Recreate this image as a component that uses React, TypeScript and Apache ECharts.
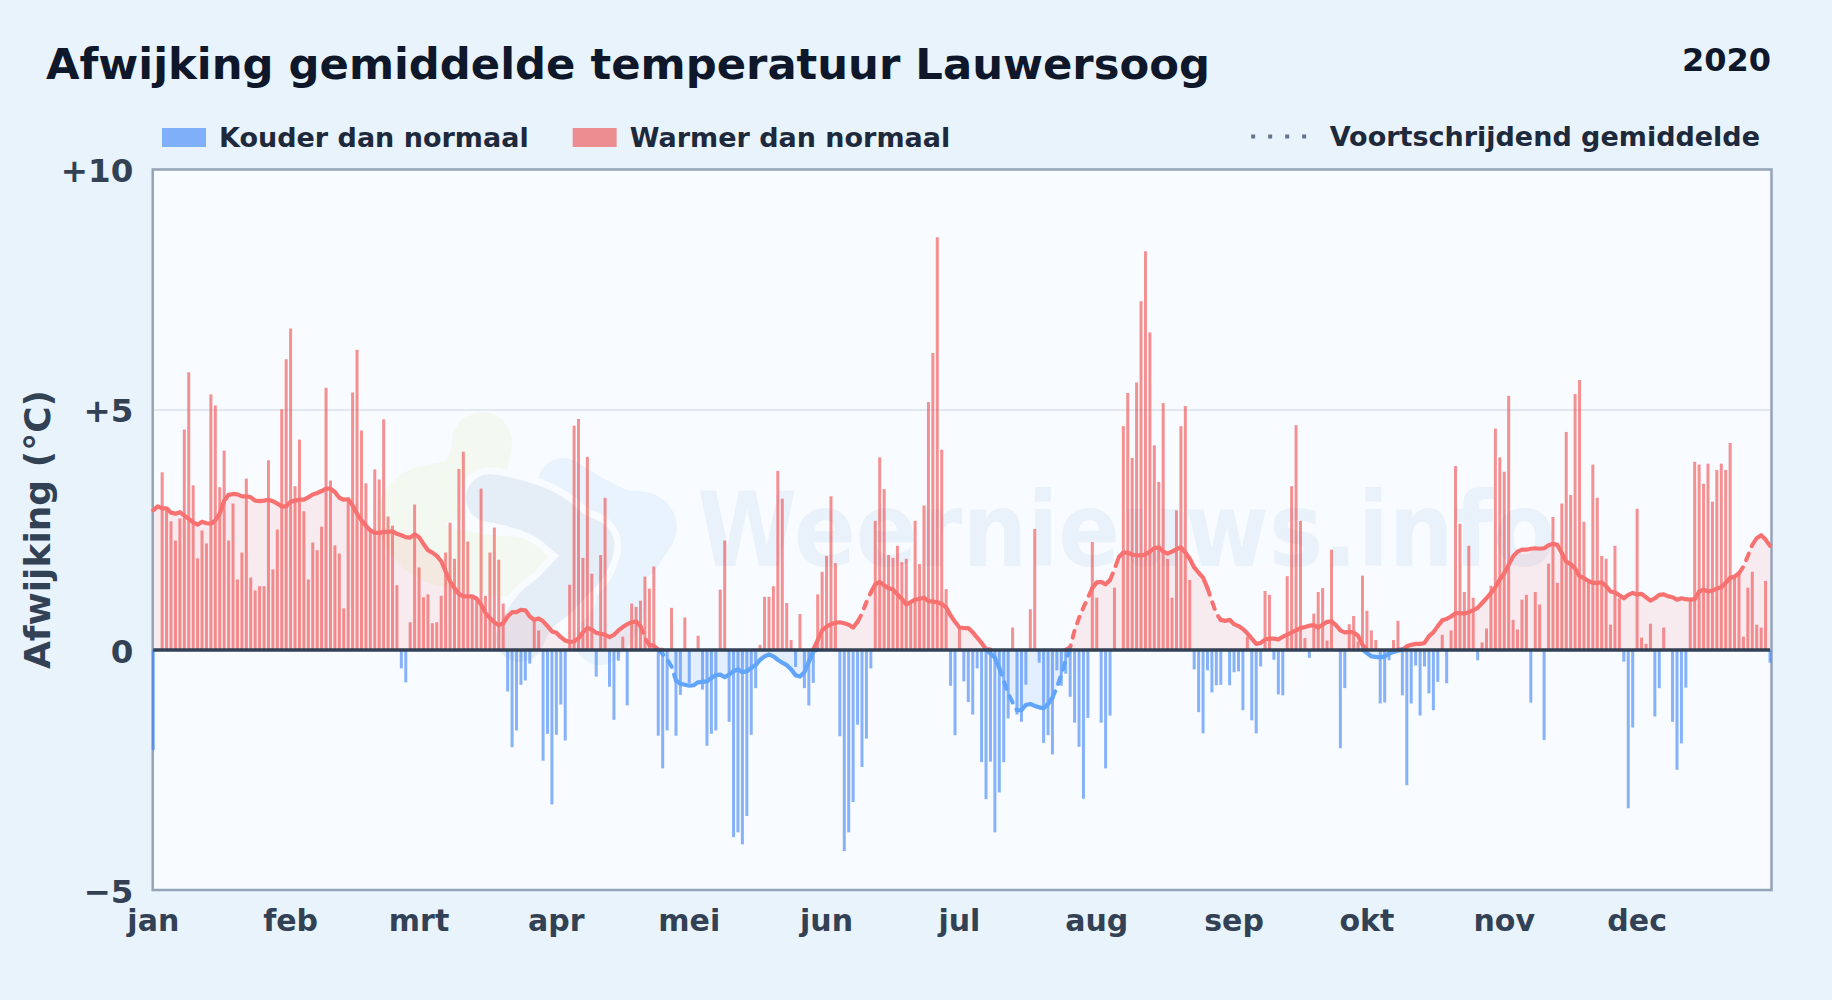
import React, { useEffect, useRef } from "react";
import * as echarts from "echarts";

const monthNames = ["jan", "feb", "mrt", "apr", "mei", "jun", "jul", "aug", "sep", "okt", "nov", "dec"];
const monthStarts = [0, 31, 60, 91, 121, 152, 182, 213, 244, 274, 305, 335];
const yTicks: Record<string, string> = { "10": "+10", "5": "+5", "0": "0", "-5": "\u22125" };

const deviations = [
  -2.09, 0, 3.69, 2.9, 2.67, 2.27, 2.73, 4.58, 5.77, 3.42,
  1.9, 2.48, 2.21, 5.31, 5.08, 3.38, 4.14, 2.27, 3.04, 1.46,
  2.02, 3.56, 1.5, 1.23, 1.32, 1.32, 3.94, 1.67, 2.5, 5.0,
  6.04, 6.68, 3.4, 4.37, 2.88, 1.46, 2.23, 2.07, 2.56, 5.45,
  3.52, 2.17, 2.0, 0.86, 3.1, 5.35, 6.24, 4.56, 3.46, 2.48,
  3.75, 3.54, 4.79, 2.77, 2.58, 1.34, -0.39, -0.68, 0.57, 3.02,
  1.71, 1.09, 1.15, 0.55, 0.57, 1.12, 2.02, 2.64, 1.89, 3.76,
  4.12, 2.25, 1.14, 1.1, 3.35, 1.12, 2.02, 2.54, 1.87, 0.96,
  -0.87, -2.03, -1.68, -0.73, -0.64, -0.29, 0.62, 0.4, -2.31, -1.75,
  -3.22, -1.77, -1.14, -1.89, 1.35, 4.66, 4.8, 1.91, 4.01, 1.58,
  -0.56, 1.97, 3.16, -0.77, -1.46, -0.23, 0.27, -1.16, 0.96, 0.89,
  1.02, 1.52, 1.27, 1.73, -1.79, -2.47, -1.68, 0.87, -1.79, -0.94,
  0.67, -0.7, 0, 0.29, -0.83, -2.0, -1.75, -1.68, 1.25, 2.27,
  -1.5, -3.9, -3.8, -4.05, -3.46, -1.77, -0.8, 0.1, 1.1, 1.1,
  1.32, 3.72, 3.14, 0.97, 0.2, -0.36, 0.74, -0.8, -1.16, -0.69,
  1.15, 1.62, 1.95, 3.19, 1.8, -1.8, -4.19, -3.8, -3.17, -1.56,
  -2.44, -1.85, -0.39, 2.68, 4.0, 3.34, 1.97, 1.91, 2.16, 1.82,
  1.89, 0.95, 2.68, 1.78, 3.0, 5.15, 6.17, 8.58, 4.16, 1.26,
  -0.75, -1.78, 0.46, -0.66, -1.09, -1.35, -0.39, -2.34, -3.11, -2.33,
  -3.8, -2.97, -2.34, -1.43, 0.46, -1.35, -1.5, -0.73, 0.84, 2.51,
  -0.27, -1.94, -1.78, -2.18, -0.43, -0.75, -0.5, -0.98, -1.52, -2.02,
  -3.1, -1.42, 2.24, 1.08, -1.52, -2.47, -1.37, 1.29, 0, 4.65,
  5.34, 3.99, 5.56, 7.25, 8.29, 6.6, 4.25, 3.49, 5.13, 1.89,
  1.08, 2.9, 4.65, 5.07, 1.45, -0.41, -1.3, -1.74, -0.43, -0.89,
  -0.74, -0.73, 0, -0.74, -0.47, -0.45, -1.26, 0.27, -1.47, -1.74,
  -0.35, 1.22, 1.14, -0.21, -0.93, -0.95, 1.53, 3.4, 4.67, 2.68,
  0.24, -0.17, 0.75, 1.2, 1.28, 0.19, 2.08, 0, -2.05, -0.8,
  0.53, 0.7, 0.17, 1.54, 0.81, 0.4, 0.2, -1.12, -1.1, -0.22,
  0.2, 0.6, -0.95, -2.82, -1.12, -0.33, -1.37, -0.35, -0.91, -1.26,
  -0.67, 0.31, -0.7, 0.4, 3.82, 2.62, 1.2, 2.16, 1.08, -0.22,
  0.15, 0.44, 1.33, 4.6, 4.0, 3.7, 5.28, 0.62, 0.42, 1.04,
  1.14, -1.1, 1.2, 0.94, -1.88, 1.79, 2.76, 1.39, 3.04, 4.53,
  3.22, 5.32, 5.61, 2.66, 1.4, 3.85, 3.16, 1.95, 1.89, 0.52,
  2.16, 1.07, -0.25, -3.3, -1.62, 2.93, 0.25, 0.12, 0.54, -1.39,
  -0.8, 0.46, 0, -1.5, -2.5, -1.95, -0.79, 1.04, 3.91, 3.85,
  3.45, 3.87, 3.08, 3.74, 3.87, 3.74, 4.3, 1.5, 1.6, 0.27,
  1.29, 1.62, 0.52, 0.46, 1.43, -0.27,
];

const movingAverage = [
  2.9, 2.98, 2.94, 2.94, 2.85, 2.83, 2.86, 2.79, 2.72, 2.65,
  2.6, 2.66, 2.63, 2.62, 2.69, 2.83, 3.1, 3.22, 3.24, 3.23,
  3.19, 3.19, 3.17, 3.1, 3.09, 3.1, 3.12, 3.09, 3.04, 2.98,
  2.98, 3.08, 3.1, 3.12, 3.12, 3.17, 3.23, 3.26, 3.3, 3.35,
  3.35, 3.28, 3.16, 3.12, 3.13, 3.0, 2.83, 2.69, 2.58, 2.48,
  2.43, 2.43, 2.45, 2.45, 2.46, 2.41, 2.38, 2.34, 2.33, 2.4,
  2.34, 2.2, 2.07, 2.02, 1.95, 1.84, 1.63, 1.42, 1.28, 1.16,
  1.11, 1.11, 1.11, 1.06, 0.94, 0.76, 0.66, 0.57, 0.51, 0.55,
  0.69, 0.78, 0.78, 0.83, 0.82, 0.69, 0.62, 0.65, 0.59, 0.49,
  0.38, 0.35, 0.26, 0.19, 0.16, 0.17, 0.24, 0.36, 0.45, 0.42,
  0.35, 0.33, 0.31, 0.26, 0.31, 0.4, 0.47, 0.53, 0.57, 0.59,
  0.49, 0.24, 0.1, 0.08, 0, -0.09, -0.2, -0.35, -0.64, -0.71,
  -0.73, -0.75, -0.74, -0.68, -0.67, -0.66, -0.59, -0.53, -0.52, -0.57,
  -0.52, -0.45, -0.41, -0.47, -0.45, -0.38, -0.32, -0.21, -0.14, -0.1,
  -0.14, -0.21, -0.27, -0.32, -0.41, -0.53, -0.56, -0.47, -0.25, -0.03,
  0.2, 0.4, 0.48, 0.53, 0.56, 0.57, 0.55, 0.52, 0.46, 0.58,
  0.75, 0.99, 1.19, 1.36, 1.41, 1.34, 1.28, 1.25, 1.15, 1.06,
  0.94, 0.99, 1.04, 1.06, 1.08, 1.01, 1.0, 0.99, 0.95, 0.88,
  0.71, 0.58, 0.46, 0.45, 0.45, 0.36, 0.25, 0.14, 0.01, -0.08,
  -0.17, -0.38, -0.65, -0.91, -1.1, -1.26, -1.26, -1.15, -1.13, -1.17,
  -1.2, -1.22, -1.13, -1.0, -0.78, -0.52, -0.21, 0.05, 0.4, 0.66,
  0.88, 1.08, 1.28, 1.4, 1.41, 1.36, 1.45, 1.67, 1.93, 2.02,
  2.02, 1.98, 1.96, 1.96, 1.98, 2.04, 2.11, 2.13, 2.04, 2.0,
  2.04, 2.09, 2.13, 2.02, 1.89, 1.71, 1.6, 1.5, 1.28, 1.01,
  0.75, 0.62, 0.6, 0.62, 0.53, 0.49, 0.43, 0.34, 0.23, 0.12,
  0.14, 0.21, 0.23, 0.23, 0.21, 0.27, 0.31, 0.36, 0.4, 0.45,
  0.47, 0.5, 0.51, 0.46, 0.52, 0.58, 0.59, 0.51, 0.4, 0.36,
  0.37, 0.36, 0.29, 0.1, -0.07, -0.14, -0.15, -0.16, -0.14, -0.08,
  -0.05, -0.02, 0, 0.07, 0.1, 0.12, 0.12, 0.14, 0.28, 0.36,
  0.49, 0.61, 0.64, 0.69, 0.76, 0.76, 0.75, 0.78, 0.82, 0.87,
  0.97, 1.07, 1.18, 1.3, 1.46, 1.59, 1.77, 1.94, 2.04, 2.08,
  2.08, 2.1, 2.11, 2.1, 2.11, 2.17, 2.2, 2.18, 2.01, 1.83,
  1.78, 1.69, 1.53, 1.49, 1.43, 1.39, 1.39, 1.4, 1.32, 1.21,
  1.19, 1.13, 1.07, 1.14, 1.18, 1.15, 1.16, 1.09, 1.02, 1.07,
  1.14, 1.15, 1.11, 1.09, 1.04, 1.07, 1.05, 1.04, 1.05, 1.21,
  1.25, 1.21, 1.23, 1.27, 1.3, 1.39, 1.49, 1.52, 1.59, 1.73,
  1.95, 2.18, 2.32, 2.38, 2.29, 2.16,
];

// Stretches of days where the average line is drawn broken
const dashedStretches = [[110, 112], [114, 118], [148, 149], [159, 162], [191, 195], [203, 212], [216, 218], [238, 241], [358, 362]];

const categories = deviations.map((_, i) => String(i));
const warm = deviations.map((v) => (v > 0 ? v : null));
const cold = deviations.map((v) => (v < 0 ? v : null));
const avgUp = movingAverage.map((v) => Math.max(v, 0));
const avgDown = movingAverage.map((v) => Math.min(v, 0));

const isDashed = (j: number) => dashedStretches.some(([a, b]) => j >= a && j < b);
function lineSegment(sign: number, dashed: boolean) {
  const belongs = (j: number) => {
    if (j < 0 || j >= movingAverage.length - 1) return false;
    const a = movingAverage[j];
    const b = movingAverage[j + 1];
    const signOk = sign > 0 ? a >= 0 || b >= 0 : a < 0 || b < 0;
    return signOk && isDashed(j) === dashed;
  };
  return movingAverage.map((v, i) => {
    if (!belongs(i) && !belongs(i - 1)) return null;
    return sign > 0 ? Math.max(v, 0) : Math.min(v, 0);
  });
}

const FONT = "DejaVu Sans";
const RED = "#f87171";
const BLUE = "#60a5fa";
const DOTS = "path://M0 0h4v4H0z M17 0h4v4h-4z M34 0h4v4h-4z M51 0h4v4h-4z";

export default function App() {
  const ref = useRef<HTMLDivElement>(null);
  useEffect(() => {
    document.body.style.margin = "0";
    document.body.style.background = "#e8f3fc";
    const chart = echarts.init(ref.current!, undefined, { renderer: "svg" });

    const avgLine = (name: string, data: (number | null)[], color: string, dashed: boolean, extra: any = {}) => ({
      name,
      type: "line",
      data,
      symbol: "none",
      z: 4,
      connectNulls: false,
      lineStyle: dashed
        ? { color, width: 4, type: [7, 8], cap: "round", join: "round" }
        : { color, width: 4.2, cap: "round", join: "round" },
      ...extra,
    });

    const blob = (points: number[][], stroke: string, lineWidth: number) => ({
      type: "polyline",
      z: -5,
      silent: true,
      shape: { points, smooth: 0.5 },
      style: { stroke, lineWidth, fill: "none", lineCap: "round", lineJoin: "round" },
    });

    const mid = [[490, 498], [540, 512], [572, 535], [590, 548], [560, 590], [535, 612], [520, 638]];

    chart.setOption({
      animation: false,
      backgroundColor: "#e8f3fc",
      textStyle: { fontFamily: FONT },
      title: [
        {
          text: "Afwijking gemiddelde temperatuur Lauwersoog",
          left: 46,
          top: 42,
          padding: 0,
          textStyle: { fontFamily: FONT, fontWeight: "bold", fontSize: 43.3, color: "#0f172a" },
        },
        {
          text: "2020",
          right: 61,
          top: 44,
          padding: 0,
          textStyle: { fontFamily: FONT, fontWeight: "bold", fontSize: 32, color: "#0f172a" },
        },
      ],
      legend: [
        {
          data: ["Kouder dan normaal", "Warmer dan normaal"],
          left: 162,
          top: 124,
          padding: 0,
          itemWidth: 44,
          itemHeight: 19,
          itemGap: 44,
          icon: "rect",
          selectedMode: false,
          textStyle: { fontFamily: FONT, fontWeight: "bold", fontSize: 27, color: "#1e293b", padding: [0, 0, 0, 8] },
        },
        {
          data: [{ name: "Voortschrijdend gemiddelde", icon: DOTS }],
          right: 72,
          top: 123,
          padding: 0,
          itemWidth: 56,
          itemHeight: 4,
          selectedMode: false,
          textStyle: { fontFamily: FONT, fontWeight: "bold", fontSize: 27, color: "#1e293b", padding: [0, 0, 0, 18] },
        },
      ],
      grid: { left: 153.3, width: 1616.7, top: 169, height: 721 },
      xAxis: {
        type: "category",
        data: categories,
        boundaryGap: false,
        axisLine: { show: false },
        axisTick: { show: false },
        splitLine: { show: false },
        axisLabel: {
          interval: (i: number) => monthStarts.includes(i),
          formatter: (_: string, i: number) => monthNames[monthStarts.indexOf(i)] ?? "",
          fontFamily: FONT,
          fontWeight: "bold",
          fontSize: 30,
          color: "#334155",
          margin: 15,
          showMinLabel: true,
          hideOverlap: false,
        },
      },
      yAxis: {
        type: "value",
        min: -5,
        max: 10,
        interval: 5,
        name: "Afwijking (\u00b0C)",
        nameLocation: "middle",
        nameGap: 98,
        nameMoveOverlap: false,
        nameTextStyle: { fontFamily: FONT, fontWeight: "bold", fontSize: 36, color: "#334155" },
        axisLine: { show: false },
        axisTick: { show: false },
        splitLine: { show: true, lineStyle: { color: "#e2e8f0", width: 2 } },
        axisLabel: {
          formatter: (v: number) => yTicks[String(v)] ?? "",
          fontFamily: FONT,
          fontWeight: "bold",
          fontSize: 32.5,
          color: "#334155",
          margin: 20,
          verticalAlign: "top",
          lineHeight: 4,
        },
      },
      graphic: [
        { type: "rect", z: -10, silent: true, shape: { x: 153, y: 169, width: 1618, height: 721 }, style: { fill: "#f8fbff" } },
        blob([[563, 483], [615, 512], [650, 522], [640, 548], [622, 572], [620, 610], [600, 640]], "#e8f3fd", 50),
        blob([[482, 442], [466, 482], [412, 505], [420, 542], [470, 562], [525, 566]], "#f3f9f0", 60),
        blob(mid, "#f8fbff", 62),
        blob(mid, "#e5edf6", 48),
        {
          type: "text",
          z: -4,
          silent: true,
          x: 697,
          y: 530,
          scaleX: 0.875,
          style: {
            text: "Weernieuws.info",
            fontFamily: FONT,
            fontWeight: "bold",
            fontSize: 104,
            fill: "rgba(30,100,180,0.065)",
            verticalAlign: "middle",
          },
        },
        { type: "rect", z: 1, silent: true, shape: { x: 152.7, y: 169.5, width: 1618.8, height: 720.5 }, style: { fill: "none", stroke: "#94a3b8", lineWidth: 2.5 } },
      ],
      series: [
        {
          name: "Warm vlak",
          type: "line",
          data: avgUp,
          symbol: "none",
          z: 2,
          lineStyle: { width: 0 },
          areaStyle: { color: "rgba(248,113,113,0.16)" },
        },
        {
          name: "Koud vlak",
          type: "line",
          data: avgDown,
          symbol: "none",
          z: 2,
          lineStyle: { width: 0 },
          areaStyle: { color: "rgba(96,165,250,0.2)" },
        },
        {
          name: "Kouder dan normaal",
          type: "bar",
          data: cold,
          barWidth: 3,
          barGap: "-100%",
          clip: false,
          z: 3,
          itemStyle: { color: "rgba(59,130,246,0.6)" },
        },
        {
          name: "Warmer dan normaal",
          type: "bar",
          data: warm,
          barWidth: 3,
          barGap: "-100%",
          clip: false,
          z: 3,
          itemStyle: { color: "rgba(239,68,68,0.58)" },
        },
        avgLine("Warm gemiddelde", lineSegment(1, false), RED, false),
        avgLine("Warm gemiddelde onderbroken", lineSegment(1, true), RED, true),
        avgLine("Koud gemiddelde", lineSegment(-1, false), BLUE, false),
        avgLine("Koud gemiddelde onderbroken", lineSegment(-1, true), BLUE, true, {
          markLine: {
            silent: true,
            symbol: "none",
            label: { show: false },
            z: 6,
            data: [{ yAxis: 0 }],
            lineStyle: { color: "#334155", width: 3.5, type: "solid" },
          },
        }),
        {
          name: "Voortschrijdend gemiddelde",
          type: "line",
          data: [],
          symbol: "none",
          itemStyle: { color: "#64748b" },
          lineStyle: { color: "#64748b", width: 4, type: [4, 12] },
        },
      ],
    });
    return () => chart.dispose();
  }, []);
  return <div ref={ref} style={{ width: 1832, height: 1000 }} />;
}
